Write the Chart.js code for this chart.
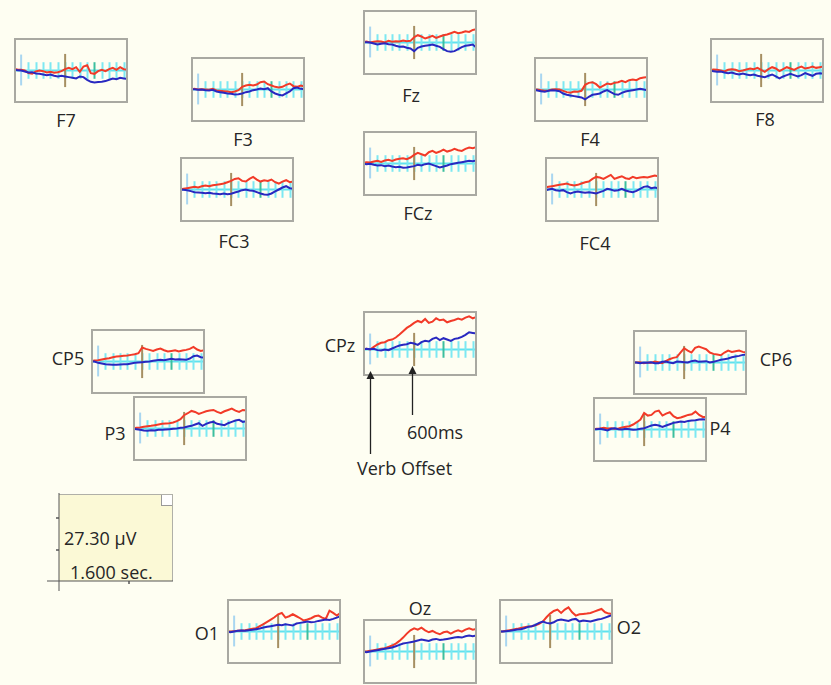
<!DOCTYPE html>
<html>
<head>
<meta charset="utf-8">
<script src="https://cdn.jsdelivr.net/npm/chart.js@4.4.1/dist/chart.umd.min.js"></script>
<style>
  body { margin: 0; background: #fefef2; }
  #page { position: relative; width: 831px; height: 685px; overflow: hidden; font-family: "Open Sans", sans-serif; color: #262626; }
  .panel { position: absolute; width: 110px; height: 61px; border: 2px solid #a9a9a2; background: #fefef2; }
  .panel canvas { display: block; }
  .lbl { position: absolute; font-size: 18px; line-height: 1; white-space: nowrap; transform: translate(-50%, -50%); }
  #scalebox { position: absolute; left: 59px; top: 494px; width: 113px; height: 86px; background: #fbf9d6; border: 1px solid #b0b0a8; border-left: none; border-bottom: none; }
  #corner { position: absolute; right: 0; top: 0; width: 10px; height: 10px; background: #fff; border-left: 1px solid #999; border-bottom: 1px solid #999; }
  #overlay { position: absolute; left: 0; top: 0; z-index: 5; }
</style>
</head>
<body>
<div id="page">
  <div id="scalebox"><div id="corner"></div></div>
  <svg id="overlay" width="831" height="685"></svg>
</div>
<script>
// time points (ms), shared by every channel
const times = [-100, -50, 0, 50, 100, 150, 200, 250, 300, 350, 400, 450, 500, 550, 600, 650,
  700, 750, 800, 850, 900, 950, 1000, 1050, 1100, 1150, 1200, 1250, 1300, 1350, 1400, 1450];

// µV, red = condition A, blue = condition B
const f7Red = [0.5, 0.3, 0.2, 0, -0.8, -1, -0.3, 0, -0.2, -0.6, -0.4, -0.7, -0.5, -0.2, 0.4, 0.8, 0.4, 1, -0.4, 1.2, 1.6, -0.8, -1, -0.2, 0.2, -0.2, 0.4, 0.8, 0.2, 1, 0.4, 0.2];
const f7Blue = [0.2, 0.1, 0, -0.3, -0.6, -0.5, -0.9, -1, -1.2, -1.4, -1.2, -1.6, -1.8, -1.6, -1.8, -2, -2.2, -2.4, -1.8, -2, -2.8, -3.4, -3.6, -3.5, -3.4, -3.2, -2.8, -2.4, -2.6, -2.2, -2.4, -2.6];
const f3Red = [0, 0.2, 0, 0.1, 0, -0.1, 0.2, -0.3, -0.4, -0.5, -0.6, -0.8, -0.6, -0.2, 0.8, 1.2, 1.4, 1.2, 1.5, 2.2, 2.4, 1.6, 1.2, 0.8, 0.6, 0.8, 1.4, 1.8, 1, 0.8, 1.2, 0.9];
const f3Blue = [0, 0.1, -0.1, 0, -0.2, -0.3, -0.1, -0.6, -0.8, -1, -1.2, -1.3, -1.5, -1.4, -1.2, -0.8, -0.6, -0.2, 0, 0.3, 0.1, 0.4, -0.6, -1.2, -1.6, -1.8, -1.2, -0.6, 0.4, 0.6, 0.2, 0.1];
const fzRed = [0.2, 0.3, 0, 0.2, 0.4, 0.3, 0, 0.5, 0.2, 0.4, 0.3, 0.6, 0.4, 0.5, 1.6, 2.2, 1.8, 1.2, 1.6, 2, 1.4, 1.8, 2.2, 2.4, 2.8, 3.2, 2.8, 3, 3.4, 3.2, 3.8, 4];
const fzBlue = [0, 0.1, 0, -0.3, -0.6, -0.4, -0.2, -0.5, -0.6, -1, -1.3, -1.2, -1.6, -1.8, -2.6, -1.6, -1.2, -1, -0.8, -0.6, -1, -1.3, -2, -2.6, -2.8, -2.6, -2, -1.4, -1, -0.8, -0.6, -1.6];
const f4Red = [0, 0, -0.2, -0.4, -0.3, 0, 0.1, 0, -0.4, -0.8, -1, -0.6, -0.7, -0.4, 1.4, 2, 2.2, 1.6, 0.6, 1.2, 1.8, 1.6, 2, 2.2, 2.6, 2.2, 2.8, 3, 2.8, 3.4, 3.6, 3.8];
const f4Blue = [0, -0.3, -0.5, -0.7, -0.4, -0.2, -0.3, -0.5, -1.2, -1.6, -1.8, -2, -2.2, -2.4, -3, -2.2, -1.6, -1.4, -1.2, -0.6, -0.2, -0.8, -1.4, -1.6, -1, -0.6, -0.4, -0.2, 0, 0.2, 0, -0.2];
const f8Red = [0, 0.3, 0.2, 0, -0.3, 0.2, 0.4, 0.2, -0.2, 0, 0.3, 0.6, 0.4, 0.8, 0.2, -0.4, 0.4, 1, 0.6, -0.2, 0.4, 1, 0.6, 0.2, 0.8, 1.2, 0.6, 0.8, 1.2, 0.8, 1, 1.2];
const f8Blue = [0, -0.2, -0.4, -0.3, -0.6, -0.8, -0.6, -1, -1.2, -0.9, -1.2, -1.4, -1.2, -1.6, -1.8, -2, -1.6, -1.2, -1.8, -2.4, -1.8, -1.4, -1, -1.4, -1.8, -1.4, -0.8, -1.2, -1.6, -1, -0.8, -1];
const fc3Red = [0, 0.2, 0.4, 0.6, 0.8, 0.6, 1, 1.2, 1, 1.3, 1.4, 1.6, 1.8, 2.2, 2.6, 3.2, 3.4, 2.6, 2.4, 3.2, 3.8, 3, 2.4, 2.8, 2.6, 3, 2.2, 1.8, 2.4, 2.8, 2.2, 2.4];
const fc3Blue = [0, -0.1, -0.2, -0.5, -0.8, -0.9, -1, -1.1, -1, -1.2, -1.3, -1.4, -1.2, -1.4, -1.3, -0.9, -0.6, -0.2, 0, -0.3, -0.4, -0.8, -1.2, -1.5, -1.6, -1.2, -0.6, 0, 0.6, 1, 0.4, 0.2];
const fczRed = [0.2, 0.4, 0.3, 0.6, 0.8, 0.5, 0.9, 1.1, 0.8, 1.2, 1.4, 1.6, 1.3, 1.8, 2.6, 3.2, 2.8, 2.4, 3.4, 3.8, 3.2, 3.6, 4.2, 3.6, 3.9, 4.4, 4, 3.8, 4.4, 4.8, 4.6, 5];
const fczBlue = [0, -0.2, -0.1, -0.4, -0.6, -0.5, -0.8, -0.6, -0.9, -1.1, -1, -1.3, -1.2, -1, -0.8, -0.4, -0.6, -0.2, 0, -0.4, -0.8, -1.2, -0.9, -0.6, -0.2, 0, 0.2, 0.4, 0.6, 0.8, 0.7, 0.9];
const fc4Red = [0.6, 0.8, 1, 1.2, 1.4, 1.6, 1.8, 1.4, 1.2, 1.4, 1.8, 2.2, 2.4, 3.2, 3.8, 3.6, 3.2, 3.8, 4.4, 3.2, 3.6, 4, 3.4, 3.2, 3.8, 3.4, 3.6, 3.8, 3.6, 3.9, 4.2, 4];
const fc4Blue = [-0.3, 0, 0.2, -0.2, -0.4, -0.2, -0.8, -1.2, -0.8, -0.6, -0.8, -1, -0.8, -1, -1.2, -0.8, -0.4, 0.2, 0, -0.4, -0.2, 0.2, -0.3, -0.6, -0.8, -0.4, 0.2, 0.8, 1, 0.4, 0.6, 0.4];
const cp5Red = [0.2, 0.3, 0.4, 0.6, 0.8, 1, 1.3, 1.5, 1.6, 1.7, 1.8, 2, 2.2, 2.5, 4.2, 3.8, 3.5, 3.2, 3.6, 3.9, 3.4, 3, 3.2, 3.4, 3, 3.3, 3.5, 3.8, 4.4, 3.6, 3.2, 3.4];
const cp5Blue = [0, 0, -0.4, -0.6, -0.8, -0.9, -1, -1, -0.9, -0.8, -0.8, -0.6, -0.4, -0.3, -0.2, -0.1, 0, 0.2, 0.4, 0.5, 0.4, 0.6, 0.8, 0.6, 0.7, 0.6, 0.5, 0.9, 1.6, 1.8, 1.3, 1.2];
const cpzRed = [0, 0.2, 0, 0.8, 1.5, 2, 2.2, 2.8, 3, 3.6, 4.5, 5.5, 6.5, 7.2, 8, 8.6, 8.2, 9.2, 8, 8.4, 9.4, 8.8, 9, 8.2, 8.6, 8.9, 9.3, 9, 9.6, 10, 9.4, 9.8];
const cpzBlue = [0, 0.2, 0.1, 0.2, -0.2, -0.3, 0, -0.2, 0.3, 0.8, 1.2, 1.4, 1.6, 2, 1.8, 1.4, 2.2, 2.6, 2.4, 3.2, 3.6, 2.8, 3.4, 3, 2.6, 3.2, 3.4, 3.8, 4.4, 5.2, 5, 4.8];
const cp6Red = [0, 0, 0.1, -0.2, 0, -0.1, 0.3, 0.1, -0.2, 0.4, 1, 1.4, 1.6, 3, 4.3, 3.6, 3, 4.4, 4.8, 4.4, 4, 3, 2.6, 2.4, 2.2, 3, 3.6, 3.2, 3.4, 3.6, 3.2, 3];
const cp6Blue = [0, 0, -0.2, 0, -0.1, 0.1, -0.2, -0.2, 0.2, 0.3, 0, -0.2, 0.3, 0.2, 0.1, 0, 0.4, 0.6, 0.2, 0.3, 0.4, 0, 0.2, 0.5, 0.8, 1, 1.2, 1.6, 1.8, 2, 2.3, 2.4];
const p3Red = [0, 0.2, 0.3, 0.5, 0.7, 0.8, 1, 1.2, 1.4, 1.5, 1.6, 1.8, 2.2, 2.8, 4, 4.6, 5.3, 5, 4.4, 4.8, 5.2, 5.4, 5.6, 5, 4.6, 5.2, 5.6, 6, 5.4, 5, 5.6, 5.4];
const p3Blue = [0, -0.2, -0.4, -0.6, -0.7, -0.5, -0.6, -0.4, -0.4, -0.3, -0.2, -0.1, 0, 0.2, 0.3, 0.6, 0.8, 1.2, 1.6, 0.8, 1.4, 1.8, 2, 1.4, 1.2, 1, 1.6, 2, 2.4, 2.6, 2, 2.2];
const p4Red = [0, 0.2, 0.3, 0.5, 0.3, 0.4, 0.2, 0.3, 0.6, 0.8, 1, 1.5, 2.2, 3, 5, 4.2, 4.4, 5.4, 5.7, 4.2, 4.8, 5.2, 4, 3.4, 3.6, 4, 4.4, 4.6, 5.4, 4.4, 3.8, 3.7];
const p4Blue = [0, 0.1, 0.2, 0, -0.3, 0.2, 0.4, 0.1, 0, 0.2, 0.1, -0.1, 0, 0.2, 0.4, 0.8, 1.2, 1.4, 1.2, 0.8, 1.2, 1.6, 2, 2.2, 2.4, 2.3, 2.6, 2.7, 2.8, 3, 3.1, 3];
const o1Red = [0, 0, 0.1, 0.2, 0.3, 0.4, 0.6, 0.8, 1, 1.6, 2.2, 2.9, 3.6, 4.3, 5.2, 5.6, 4.2, 4.6, 5.2, 4.6, 4, 3.3, 3.6, 4, 4.6, 4.8, 4.2, 3.8, 6.3, 5.6, 4.8, 5.6];
const o1Blue = [0, -0.2, 0, 0.2, 0.3, 0.2, 0.4, 0.5, 0.7, 0.9, 1.2, 1.4, 1.6, 1.8, 2, 1.9, 2.2, 2, 1.8, 2.4, 2.6, 2.8, 3, 2.8, 2.9, 3.2, 3.4, 3.6, 3.5, 3.8, 4.2, 4.6];
const ozRed = [0, 0, 0.2, 0.4, 0.6, 0.8, 1, 1.4, 1.8, 2.4, 3.2, 4.2, 5.4, 6.4, 7, 6.6, 7.2, 6.4, 5.8, 6.2, 5.6, 5.2, 5.8, 6, 5.4, 6, 6.4, 6, 6.6, 7, 6.6, 6.8];
const ozBlue = [0, -0.2, 0, 0.2, 0.4, 0.6, 0.8, 1, 1.2, 1.6, 2, 2.4, 2.6, 2.8, 3, 3.3, 3.6, 3.4, 3.2, 3.6, 3.8, 3.5, 3.6, 3.8, 4, 4.2, 4.4, 4.2, 4.6, 4.8, 4.6, 4.8];
const o2Red = [0, 0, 0.2, 0.4, 0.6, 0.8, 1.1, 1.3, 1.5, 1.6, 1.9, 2.3, 3, 4.3, 5.4, 6.2, 6.6, 5.6, 6.6, 7.3, 5.8, 4.8, 5.2, 5.3, 5.4, 5.6, 6, 6.4, 6.8, 5.8, 5.4, 5.3];
const o2Blue = [0, 0, 0.1, 0.2, 0.4, 0.6, 0.7, 1, 1.4, 1.6, 2, 2.6, 3, 2.6, 2.4, 2.8, 3.4, 3.6, 3.4, 3.2, 3.6, 3.8, 3, 3.3, 3.2, 3, 3.3, 3.6, 3.8, 4.2, 4.6, 5];

// axis markers (ms / µV)
const tickTimes = [100, 200, 300, 400, 500, 600, 700, 800, 900, 1000, 1100, 1200, 1300, 1400];
const tickHalf = 2.5;
const onsetTime = 0;
const onsetRange = [-4.5, 4.8];
const markTime = 600;
const markRange = [-5, 5];

// panel placement: name, left, top, label centre
const layout = [
  { name: 'F7', red: f7Red, blue: f7Blue, x: 14, y: 38, lx: 66, ly: 120 },
  { name: 'F3', red: f3Red, blue: f3Blue, x: 191, y: 57, lx: 243, ly: 139 },
  { name: 'Fz', red: fzRed, blue: fzBlue, x: 363, y: 10, lx: 411, ly: 95 },
  { name: 'F4', red: f4Red, blue: f4Blue, x: 534, y: 57, lx: 590, ly: 139 },
  { name: 'F8', red: f8Red, blue: f8Blue, x: 710, y: 38, lx: 765, ly: 119 },
  { name: 'FC3', red: fc3Red, blue: fc3Blue, x: 180, y: 157, lx: 234, ly: 241 },
  { name: 'FCz', red: fczRed, blue: fczBlue, x: 363, y: 131, lx: 418, ly: 213 },
  { name: 'FC4', red: fc4Red, blue: fc4Blue, x: 545, y: 157, lx: 595, ly: 243 },
  { name: 'CP5', red: cp5Red, blue: cp5Blue, x: 91, y: 329, lx: 68, ly: 358 },
  { name: 'CPz', red: cpzRed, blue: cpzBlue, x: 363, y: 311, lx: 340, ly: 345, yMin: -7.4, yMax: 11 },
  { name: 'CP6', red: cp6Red, blue: cp6Blue, x: 633, y: 330, lx: 776, ly: 359 },
  { name: 'P3', red: p3Red, blue: p3Blue, x: 133, y: 396, lx: 115, ly: 433 },
  { name: 'P4', red: p4Red, blue: p4Blue, x: 593, y: 397, lx: 720, ly: 428 },
  { name: 'O1', red: o1Red, blue: o1Blue, x: 227, y: 599, lx: 207, ly: 633 },
  { name: 'Oz', red: ozRed, blue: ozBlue, x: 363, y: 619, lx: 420, ly: 608 },
  { name: 'O2', red: o2Red, blue: o2Blue, x: 499, y: 599, lx: 629, ly: 627 },
];

const page = document.getElementById('page');

const vline = (ctx, x, y1, y2, color, w) => {
  ctx.strokeStyle = color;
  ctx.lineWidth = w;
  ctx.beginPath();
  ctx.moveTo(x, y1);
  ctx.lineTo(x, y2);
  ctx.stroke();
};

const eegMarks = {
  id: 'eegMarks',
  beforeDatasetsDraw(chart) {
    const { ctx, scales: { x, y } } = chart;
    const y0 = y.getPixelForValue(0);
    ctx.save();
    ctx.strokeStyle = '#5fe2ee';
    ctx.lineWidth = 2;
    ctx.beginPath();
    ctx.moveTo(chart.chartArea.left, y0);
    ctx.lineTo(chart.chartArea.right, y0);
    ctx.stroke();
    tickTimes.forEach((t) => {
      const px = Math.round(x.getPixelForValue(t)) + 0.5;
      const col = t === 1000 ? '#3cbf9e' : '#7de8f2';
      vline(ctx, px, y.getPixelForValue(tickHalf), y.getPixelForValue(-tickHalf), col, 2);
    });
    vline(ctx, x.getPixelForValue(onsetTime), y.getPixelForValue(onsetRange[1]), y.getPixelForValue(onsetRange[0]), '#a9d6f0', 2);
    vline(ctx, x.getPixelForValue(markTime), y.getPixelForValue(markRange[1]), y.getPixelForValue(markRange[0]), '#a68f62', 2);
    ctx.restore();
  },
};

layout.forEach((p) => {
  const box = document.createElement('div');
  box.className = 'panel';
  box.style.left = p.x + 'px';
  box.style.top = p.y + 'px';
  const cv = document.createElement('canvas');
  cv.width = 110;
  cv.height = 61;
  box.appendChild(cv);
  page.appendChild(box);

  const lbl = document.createElement('div');
  lbl.className = 'lbl';
  lbl.textContent = p.name;
  lbl.style.left = p.lx + 'px';
  lbl.style.top = p.ly + 'px';
  page.appendChild(lbl);

  new Chart(cv, {
    type: 'line',
    data: {
      labels: times,
      datasets: [
        { data: p.blue.map((v, i) => ({ x: times[i], y: v })), borderColor: '#2828c0', borderWidth: 2 },
        { data: p.red.map((v, i) => ({ x: times[i], y: v })), borderColor: '#f23a28', borderWidth: 2 },
      ],
    },
    options: {
      responsive: false,
      animation: false,
      events: [],
      layout: { padding: 0 },
      elements: { point: { radius: 0 }, line: { tension: 0 } },
      plugins: { legend: { display: false }, tooltip: { enabled: false } },
      scales: {
        x: { type: 'linear', min: -70, max: 1430, display: false },
        y: { min: p.yMin ?? -9.2, max: p.yMax ?? 9.2, display: false },
      },
    },
    plugins: [eegMarks],
  });
});

// scale legend and annotation text
const addText = (txt, x, y, size) => {
  const d = document.createElement('div');
  d.className = 'lbl';
  d.style.transform = 'translate(0, -50%)';
  d.style.fontSize = size + 'px';
  d.textContent = txt;
  d.style.left = x + 'px';
  d.style.top = y + 'px';
  page.appendChild(d);
};
addText('27.30 µV', 64, 538, 18);
addText('1.600 sec.', 70, 572, 18);
addText('600ms', 407, 432, 18);
addText('Verb Offset', 357, 468, 18);

// annotation lines
const svg = document.getElementById('overlay');
const ns = 'http://www.w3.org/2000/svg';
const svgEl = (tag, attrs) => {
  const e = document.createElementNS(ns, tag);
  Object.entries(attrs).forEach(([k, v]) => e.setAttribute(k, v));
  svg.appendChild(e);
};
// scale axes
svgEl('line', { x1: 59, y1: 493, x2: 59, y2: 591, stroke: '#555', 'stroke-width': 1 });
svgEl('line', { x1: 47, y1: 581, x2: 173, y2: 581, stroke: '#555', 'stroke-width': 1 });
svgEl('line', { x1: 56, y1: 518, x2: 59, y2: 518, stroke: '#555', 'stroke-width': 1.5 });
svgEl('line', { x1: 56, y1: 550, x2: 59, y2: 550, stroke: '#555', 'stroke-width': 1.5 });
svgEl('line', { x1: 129, y1: 581, x2: 129, y2: 584, stroke: '#555', 'stroke-width': 1.5 });
// arrows
const arrow = (x, yTop, yBot) => {
  svgEl('line', { x1: x, y1: yTop + 6, x2: x, y2: yBot, stroke: '#222', 'stroke-width': 1.3 });
  svgEl('polygon', { points: `${x - 4},${yTop + 8} ${x + 4},${yTop + 8} ${x},${yTop}`, fill: '#222' });
};
arrow(370.5, 371, 454);
arrow(412.5, 366, 415);
</script>
</body>
</html>
